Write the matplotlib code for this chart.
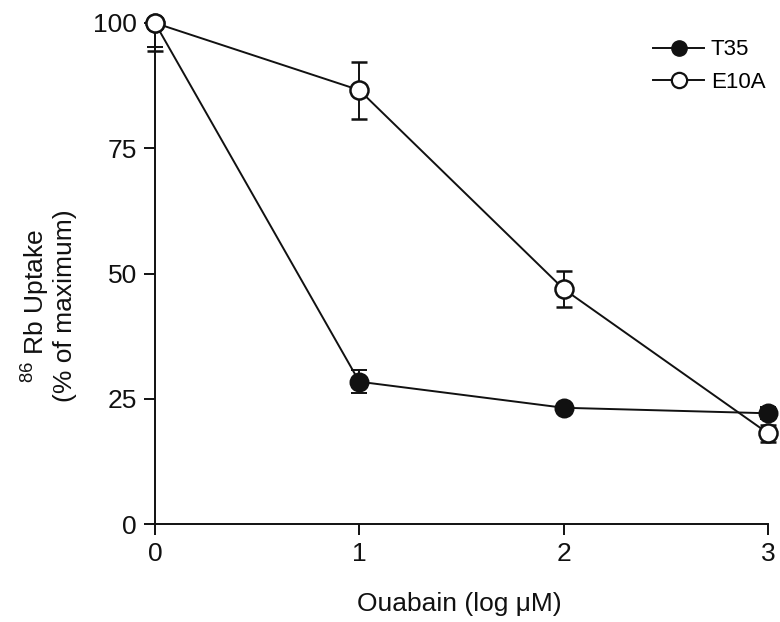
import matplotlib
matplotlib.use("Agg")
import matplotlib.pyplot as plt
from matplotlib.lines import Line2D

plt.rcParams['font.family'] = ['Liberation Sans', 'DejaVu Sans']
plt.rcParams['mathtext.fontset'] = 'custom'
plt.rcParams['mathtext.rm'] = 'Liberation Sans'

x = [0, 1, 2, 3]
t35 = [100, 28.4, 23.2, 22.1]
t35_err_lo = [4.8, 2.3, 0.6, 1.2]
t35_err_hi = [0, 2.3, 0.6, 1.2]
e10a = [100, 86.6, 46.9, 18.1]
e10a_err_lo = [5.6, 5.7, 3.6, 1.7]
e10a_err_hi = [0, 5.7, 3.6, 1.7]
xticks = [0, 1, 2, 3]
yticks = [0, 25, 50, 75, 100]

fig = plt.figure(figsize=(7.8, 6.22), dpi=100)
ax = fig.add_axes([155/780, 1-524/622, (768-155)/780, (524-23)/622])

c = '#111111'
ms = 13
ax.errorbar(x, t35, yerr=[t35_err_lo, t35_err_hi], color=c, lw=1.4,
            marker='o', ms=ms, mfc=c, mec=c, mew=1.4, capsize=6, capthick=1.4,
            elinewidth=1.4, clip_on=False, zorder=3)
ax.errorbar(x, e10a, yerr=[e10a_err_lo, e10a_err_hi], color=c, lw=1.4,
            marker='o', ms=ms, mfc='white', mec=c, mew=1.8, capsize=6, capthick=1.4,
            elinewidth=1.4, clip_on=False, zorder=3)

ax.set_xlim(0, 3)
ax.set_ylim(0, 100)
ax.set_xticks(xticks)
ax.set_yticks(yticks)
for s in ['top', 'right']:
    ax.spines[s].set_visible(False)
for s in ['left', 'bottom']:
    ax.spines[s].set_linewidth(1.4)
    ax.spines[s].set_color(c)
ax.tick_params(direction='out', length=8, width=1.4, labelsize=19, colors=c, pad=5)

ax.set_xlabel('Ouabain (log \u03bcM)', fontsize=19, color=c)
ax.xaxis.set_label_coords(0.497, -0.135)
ax.set_ylabel('$^{\\mathregular{86}}$ Rb Uptake\n(% of maximum)', fontsize=19,
              color=c, linespacing=1.1)
ax.yaxis.set_label_coords(-0.128, 0.435)

handles = [Line2D([], [], color=c, lw=1.4, marker='o', ms=11, mfc=c, mec=c),
           Line2D([], [], color=c, lw=1.4, marker='o', ms=11, mfc='white', mec=c, mew=1.6)]
ax.legend(handles, ['T35', 'E10A'], loc='upper left', bbox_to_anchor=(0.798, 0.985),
          frameon=False, fontsize=16, handlelength=2.3, handletextpad=0.3,
          labelspacing=0.5, numpoints=1, borderaxespad=0)

fig.savefig('out.png', dpi=100)
